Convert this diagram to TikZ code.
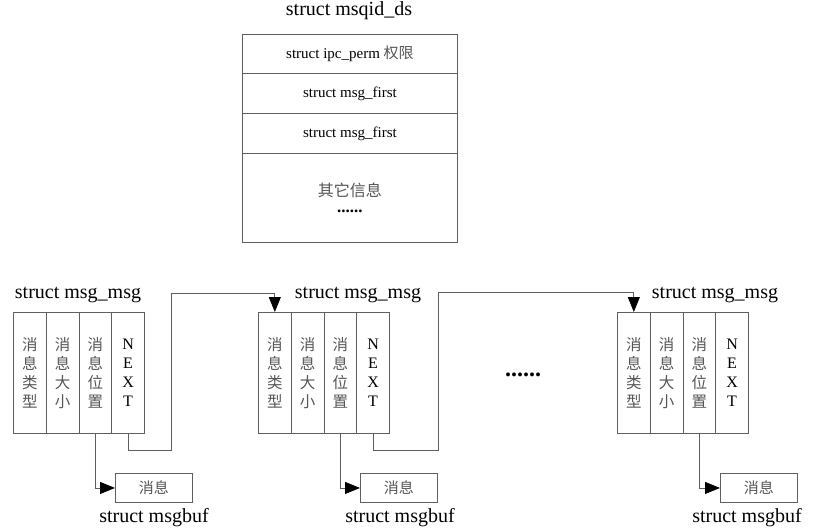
\documentclass[tikz,border=0pt]{standalone}
\usepackage{fontspec}
\setmainfont{Liberation Serif}
\newfontfamily\cjk{Noto Sans CJK SC}
\usetikzlibrary{arrows.meta}
\definecolor{linegray}{RGB}{95,95,95}
\definecolor{txtgray}{RGB}{85,85,85}
\begin{document}
\begin{tikzpicture}[x=1pt,y=-1pt,
  boxline/.style={draw=linegray,line width=0.9pt},
  rowbox/.style={boxline,anchor=north west,inner sep=0pt,minimum width=215pt,font=\fontsize{15}{17}\selectfont},
  colbox/.style={boxline,anchor=north west,inner sep=0pt,minimum width=32.75pt,minimum height=121pt,align=center},
  cjkcol/.style={font=\cjk\fontsize{15.5}{19}\selectfont,text=txtgray},
  nextcol/.style={font=\fontsize{16}{19}\selectfont},
  bufbox/.style={boxline,anchor=north west,inner sep=0pt,minimum width=77pt,minimum height=29pt,font=\cjk\fontsize{15}{15}\selectfont,text=txtgray},
  title/.style={anchor=base,font=\fontsize{20}{22}\selectfont,inner sep=0pt},
  conn/.style={draw=linegray,line width=0.9pt},
  tip/.style={-{Triangle[width=12pt,length=15pt,color=black,fill=black]}}
]
\useasboundingbox (0,0) rectangle (826,531);

% top structure
\node[title] (tt) at (349,15) {struct msqid\_ds};
\node[rowbox,minimum height=39pt] (r1) at (242,34) {struct ipc\_perm {\cjk\color{txtgray} 权限}};
\node[rowbox,minimum height=40pt] (r2) at (242,73) {struct msg\_first};
\node[rowbox,minimum height=40pt] (r3) at (242,113) {struct msg\_first};
\node[rowbox,minimum height=89pt,align=center] (r4) at (242,153) {{\cjk\color{txtgray}\fontsize{16}{18}\selectfont 其它信息}\\[-1pt]{\bfseries\fontsize{17}{17}\selectfont ......}};

% group 1
\node[title] (t1) at (78,298) {struct msg\_msg};
\node[colbox,cjkcol] (c11) at (13,312) {消\\息\\类\\型};
\node[colbox,cjkcol] (c12) at (45.75,312) {消\\息\\大\\小};
\node[colbox,cjkcol] (c13) at (78.5,312) {消\\息\\位\\置};
\node[colbox,nextcol] (c14) at (111.25,312) {N\\E\\X\\T};
\node[bufbox] (b1) at (115,473) {消息};
\node[title] (bt1) at (154,522) {struct msgbuf};

% group 2
\node[title] (t2) at (358,298) {struct msg\_msg};
\node[colbox,cjkcol] (c21) at (258,312) {消\\息\\类\\型};
\node[colbox,cjkcol] (c22) at (290.75,312) {消\\息\\大\\小};
\node[colbox,cjkcol] (c23) at (323.5,312) {消\\息\\位\\置};
\node[colbox,nextcol] (c24) at (356.25,312) {N\\E\\X\\T};
\node[bufbox] (b2) at (360,473) {消息};
\node[title] (bt2) at (400,522) {struct msgbuf};

% middle dots
\node[font=\bfseries\fontsize{24}{24}\selectfont,inner sep=0pt,anchor=base] (dots) at (523,376) {......};

% group 3
\node[title] (t3) at (715,298) {struct msg\_msg};
\node[colbox,cjkcol] (c31) at (617,312) {消\\息\\类\\型};
\node[colbox,cjkcol] (c32) at (649.75,312) {消\\息\\大\\小};
\node[colbox,cjkcol] (c33) at (682.5,312) {消\\息\\位\\置};
\node[colbox,nextcol] (c34) at (715.25,312) {N\\E\\X\\T};
\node[bufbox] (b3) at (720,473) {消息};
\node[title] (bt3) at (747,522) {struct msgbuf};

% connectors to msgbuf
\draw[conn,tip] (c13.south) |- (b1.west);
\draw[conn,tip] (c23.south) |- (b2.west);
\draw[conn,tip] (c33.south) |- (b3.west);

% NEXT links
\coordinate (j1a) at (171,450);
\coordinate (j1b) at (171,293);
\draw[conn,tip] (c14.south) |- (j1a) -- (j1b) -| (c21.north);
\coordinate (j2a) at (438,450);
\coordinate (j2b) at (438,292);
\draw[conn,tip] (c24.south) |- (j2a) -- (j2b) -| (c31.north);
\end{tikzpicture}
\end{document}
